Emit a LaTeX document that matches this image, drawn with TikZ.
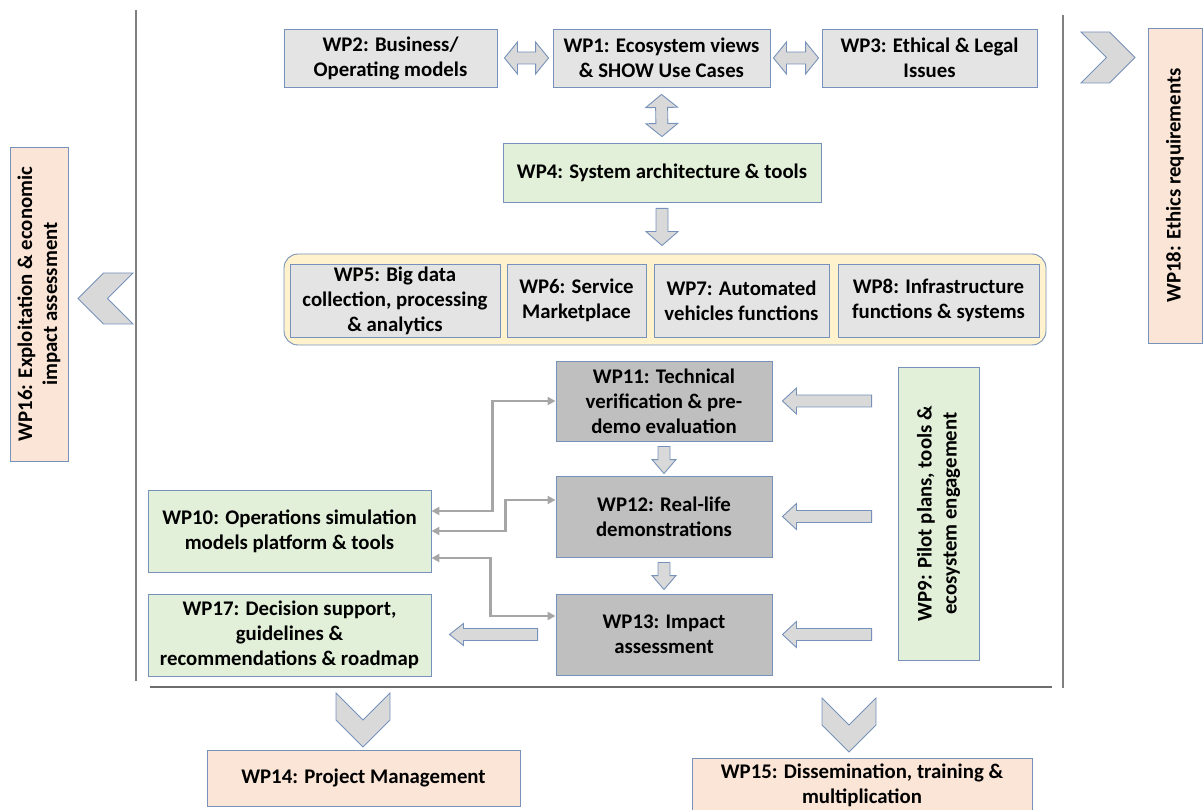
\documentclass[tikz,border=0pt]{standalone}
\usepackage{fontspec}
\setmainfont{Carlito}
\usetikzlibrary{arrows.meta,calc,shapes.symbols}

\definecolor{wpline}{RGB}{118,146,186}
\definecolor{lightbox}{RGB}{228,228,228}
\definecolor{darkbox}{RGB}{191,191,191}
\definecolor{greenbox}{RGB}{226,240,217}
\definecolor{peachbox}{RGB}{251,229,214}
\definecolor{groupfill}{RGB}{255,242,204}
\definecolor{arrowfill}{RGB}{217,217,217}
\definecolor{linkgray}{RGB}{166,166,166}
\definecolor{framegray}{RGB}{128,128,128}

\pgfkeys{/tikz/fat shaft/.initial=6pt,/tikz/fat head/.initial=13pt,/tikz/fat len/.initial=14pt}
\newcommand\fatS{\pgfkeysvalueof{/tikz/fat shaft}}
\newcommand\fatH{\pgfkeysvalueof{/tikz/fat head}}
\newcommand\fatL{\pgfkeysvalueof{/tikz/fat len}}

\begin{document}
\begin{tikzpicture}[x=1pt,y=-1pt,semithick]
        \tikzstyle{wpnode}=[
            rectangle,
            draw=wpline,
            line width=0.9pt,
            fill=lightbox,
            align=center,
            inner sep=2pt,
            font=\bfseries\fontsize{20.8}{25}\selectfont
        ]
        \tikzstyle{chevron}=[
            signal,
            signal from=west,
            signal to=east,
            draw=wpline,
            line width=0.9pt,
            fill=arrowfill,
            inner sep=0pt
        ]
        \tikzstyle{fatarrow}=[draw=wpline, line width=0.9pt, fill=arrowfill, to path={
            ($(\tikztostart)!\fatS!90:(\tikztotarget)$)
            -- ($(\tikztotarget)!\fatL!(\tikztostart)!\fatS!-90:(\tikztostart)$)
            -- ($(\tikztotarget)!\fatL!(\tikztostart)!\fatH!-90:(\tikztostart)$)
            -- (\tikztotarget)
            -- ($(\tikztotarget)!\fatL!(\tikztostart)!\fatH!90:(\tikztostart)$)
            -- ($(\tikztotarget)!\fatL!(\tikztostart)!\fatS!90:(\tikztostart)$)
            -- ($(\tikztostart)!\fatS!-90:(\tikztotarget)$) -- cycle}]
        \tikzstyle{fatboth}=[draw=wpline, line width=0.9pt, fill=arrowfill, to path={
            (\tikztostart)
            -- ($(\tikztostart)!\fatL!(\tikztotarget)!\fatH!90:(\tikztotarget)$)
            -- ($(\tikztostart)!\fatL!(\tikztotarget)!\fatS!90:(\tikztotarget)$)
            -- ($(\tikztotarget)!\fatL!(\tikztostart)!\fatS!-90:(\tikztostart)$)
            -- ($(\tikztotarget)!\fatL!(\tikztostart)!\fatH!-90:(\tikztostart)$)
            -- (\tikztotarget)
            -- ($(\tikztotarget)!\fatL!(\tikztostart)!\fatH!90:(\tikztostart)$)
            -- ($(\tikztotarget)!\fatL!(\tikztostart)!\fatS!90:(\tikztostart)$)
            -- ($(\tikztostart)!\fatL!(\tikztotarget)!\fatS!-90:(\tikztotarget)$)
            -- ($(\tikztostart)!\fatL!(\tikztotarget)!\fatH!-90:(\tikztotarget)$)
            -- cycle}]
        \tikzstyle{link}=[draw=linkgray, line width=2.2pt, {Triangle[length=8pt,width=8pt]}-{Triangle[length=8pt,width=8pt]}]

        \clip (0,0) rectangle (1203,810);

        \draw[framegray, line width=2.6pt] (136,10) -- (136,681);
        \draw[framegray, line width=2.6pt] (1063,15) -- (1063,688);
        \draw[framegray!85!black, line width=2.8pt] (150,687) -- (1052,687);

        \node[wpnode, minimum width=213pt, minimum height=58pt] (wp2) at (390.5,58) {WP2: Business/\\Operating models};
        \node[wpnode, minimum width=217pt, minimum height=58pt] (wp1) at (661.5,58) {WP1: Ecosystem views\\\& SHOW Use Cases};
        \node[wpnode, minimum width=215pt, minimum height=58pt] (wp3) at (929.5,58) {WP3: Ethical \& Legal\\Issues};
        \node[wpnode, fill=greenbox, minimum width=318pt, minimum height=59pt] (wp4) at (662,172.5) {WP4: System architecture \& tools};

        \node[draw=wpline, line width=0.9pt, fill=groupfill, rounded corners=14pt, minimum width=762pt, minimum height=91pt] (grp) at (665,299.5) {};
        \node[wpnode, minimum width=210pt, minimum height=73pt] (wp5) at (395,300.5) {WP5: Big data\\collection, processing\\\& analytics};
        \node[wpnode, minimum width=139pt, minimum height=73pt] (wp6) at (576.5,300.5) {WP6: Service\\Marketplace};
        \node[wpnode, minimum width=175pt, minimum height=73pt] (wp7) at (741.5,300.5) {WP7: Automated\\vehicles functions};
        \node[wpnode, minimum width=201pt, minimum height=73pt] (wp8) at (938.5,300.5) {WP8: Infrastructure\\functions \& systems};

        \node[wpnode, fill=darkbox, minimum width=216pt, minimum height=80pt] (wp11) at (664,401) {WP11: Technical\\verification \& pre-\\demo evaluation};
        \node[wpnode, fill=darkbox, minimum width=216pt, minimum height=81pt] (wp12) at (664,516.5) {WP12: Real-life\\demonstrations};
        \node[wpnode, fill=darkbox, minimum width=216pt, minimum height=81pt] (wp13) at (664,634.5) {WP13: Impact\\assessment};
        \node[wpnode, fill=greenbox, rotate=90, minimum width=293pt, minimum height=81pt] (wp9) at (938.5,513.5) {WP9: Pilot plans, tools \&\\ecosystem engagement};
        \node[wpnode, fill=greenbox, minimum width=283pt, minimum height=82pt] (wp10) at (289.5,531) {WP10: Operations simulation\\models platform \& tools};
        \node[wpnode, fill=greenbox, minimum width=283pt, minimum height=82pt] (wp17) at (289.5,635) {WP17: Decision support,\\guidelines \&\\recommendations \& roadmap};

        \node[wpnode, fill=peachbox, rotate=90, minimum width=314pt, minimum height=58pt] (wp16) at (39,304) {WP16: Exploitation \& economic\\impact assessment};
        \node[wpnode, fill=peachbox, rotate=90, minimum width=315pt, minimum height=54pt] (wp18) at (1175,185.5) {WP18: Ethics requirements};
        \node[wpnode, fill=peachbox, minimum width=313pt, minimum height=56pt] (wp14) at (363.5,778) {WP14: Project Management};
        \node[wpnode, fill=peachbox, minimum width=340pt, minimum height=54pt] (wp15) at (862,785) {WP15: Dissemination, training \&\\multiplication};

        \node[chevron, minimum width=54pt, minimum height=51pt] (chr) at (1108,57.5) {};
        \node[chevron, rotate=180, minimum width=55pt, minimum height=51pt] (chl) at (105.5,298.5) {};
        \node[chevron, rotate=-90, minimum width=52pt, minimum height=54pt] (chm) at (363,720) {};
        \node[chevron, rotate=-90, minimum width=54pt, minimum height=54pt] (chd) at (849,725) {};

        \draw[fatboth, fat head=16pt, fat len=13pt] ([xshift=7pt]wp2.east) to ([xshift=-4pt]wp1.west);
        \draw[fatboth, fat head=16pt, fat len=13pt] ([xshift=3pt]wp1.east) to ([xshift=-3pt]wp3.west);
        \draw[fatboth, fat head=16pt, fat len=13pt] ([yshift=-7pt]wp1.south) to ([yshift=6pt]wp4.north);
        \draw[fatarrow, fat head=16pt] ([yshift=-6pt]wp4.south) to ([yshift=8pt]wp4.south |- grp.north);
        \draw[fatarrow, fat head=12pt] ([yshift=-5pt]wp11.south) to ([yshift=2pt]wp12.north);
        \draw[fatarrow, fat head=12pt] ([yshift=-5pt]wp12.south) to ([yshift=4pt]wp13.north);
        \draw[fatarrow] ([xshift=-26pt]wp9.north |- wp11.east) to ([xshift=10pt]wp11.east);
        \draw[fatarrow] ([xshift=-26pt]wp9.north |- wp12.east) to ([xshift=10pt]wp12.east);
        \draw[fatarrow] ([xshift=-26pt]wp9.north |- wp13.east) to ([xshift=10pt]wp13.east);
        \draw[fatarrow, fat head=11pt] ([xshift=-18pt]wp13.west) to ([xshift=18pt]wp17.east |- wp13.west);

        \draw[link] ([yshift=20pt]wp10.east) -- ++(61,0) |- (wp11.west);
        \draw[link] (wp10.east) -- ++(74,0) |- ([yshift=16.5pt]wp12.west);
        \draw[link] ([yshift=-27pt]wp10.east) -- ++(59,0) |- ([yshift=18.5pt]wp13.west);

    \end{tikzpicture}
\end{document}
